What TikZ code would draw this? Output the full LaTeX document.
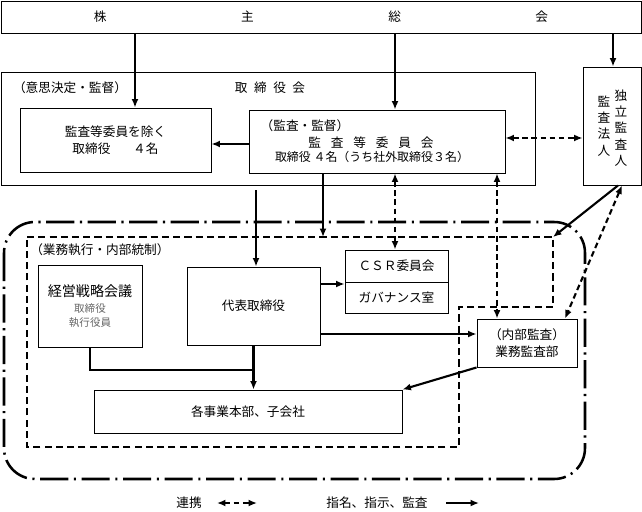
\documentclass[tikz,border=0pt]{standalone}
\usepackage{fontspec}
\setmainfont{Noto Sans CJK JP}
\usepackage{tikz}
\usetikzlibrary{arrows.meta, positioning}
\newlength\pxl
\setlength\pxl{0.025cm}

\begin{document}
\begin{tikzpicture}[x=0.025cm, y=-0.025cm,
  box/.style={draw, line width=0.7pt, inner sep=0pt, align=center, font=\fontsize{9}{12}\selectfont},
  lbl/.style={inner sep=0pt, font=\fontsize{9}{12}\selectfont},
  arr/.style={line width=1.5pt, -{Latex[length=6pt,width=5pt]}},
  link/.style={line width=1.5pt, dash pattern=on 4pt off 2.5pt, {Latex[length=6pt,width=5pt]}-{Latex[length=6pt,width=5pt]}},
  ddot/.style={line width=1.8pt, dash pattern=on 20pt off 4pt on 1.5pt off 4pt},
  dline/.style={line width=1.1pt, dash pattern=on 5pt off 3pt}]
\useasboundingbox (0,0) rectangle (642,511);

% shareholders, board
\node[box, minimum width=640\pxl, minimum height=32\pxl] (gm) at (321,17) {\makebox[323pt][s]{株\hfill 主\hfill 総\hfill 会}};
\node[box, minimum width=534\pxl, minimum height=113\pxl] (board) at (268,128.5) {};
\node[lbl] (boardtag) at (70,88) {（意思決定・監督）};
\node[lbl] (boardname) at (270,88) {\makebox[50pt][s]{取\hfill 締\hfill 役\hfill 会}};
\node[box, minimum width=191\pxl, minimum height=64\pxl] (dirs) at (115.5,140) {監査等委員を除く\\取締役\hspace{1.8em}４名};
\node[box, minimum width=256\pxl, minimum height=63\pxl] (acm) at (377,141.5) {};
\node[lbl] (acmtag) at (305,126) {（監査・監督）};
\node[lbl] (acmname) at (371,143) {\makebox[89pt][s]{監\hfill 査\hfill 等\hfill 委\hfill 員\hfill 会}};
\node[lbl, font=\fontsize{8.5}{11}\selectfont] (acmcount) at (372,157) {取締役\ ４名（うち社外取締役３名）};
\node[box, minimum width=58\pxl, minimum height=118\pxl] (auditor) at (612,126) {};
\node[lbl, align=center, font=\fontsize{9}{11.5}\selectfont] (auditora) at (621,128) {独\\立\\監\\査\\人};
\node[lbl, align=center, font=\fontsize{9}{11.5}\selectfont] (auditorb) at (604,126) {監\\査\\法\\人};

% execution and internal control
\draw[ddot, rounded corners=22pt] (4,222) rectangle (585,479);
\coordinate (icne) at (553,237);
\draw[dline] (27,237) -- (icne) -- (553,307) -- (459,307) -- (459,447) -- (27,447) -- cycle;
\node[lbl, anchor=west] (ictag) at (30,250) {（業務執行・内部統制）};
\node[box, minimum width=104\pxl, minimum height=82\pxl] (mgmt) at (90,306) {{\fontsize{10}{12}\selectfont 経営戦略会議}\\[-1pt]{\fontsize{7.5}{9}\selectfont\color{black!60}取締役}\\[-2pt]{\fontsize{7.5}{9}\selectfont\color{black!60}執行役員}};
\node[box, minimum width=133\pxl, minimum height=78\pxl] (ceo) at (253.5,306) {代表取締役};
\node[box, minimum width=103\pxl, minimum height=32\pxl] (csr) at (396.5,266) {ＣＳＲ委員会};
\node[box, minimum width=103\pxl, minimum height=31\pxl] (gov) at (396.5,297.5) {ガバナンス室};
\node[box, minimum width=100\pxl, minimum height=48\pxl] (iad) at (527,343) {（内部監査）\\業務監査部};
\node[box, minimum width=308\pxl, minimum height=43\pxl] (bu) at (248,411.5) {各事業本部、子会社};

% connectors
\draw[arr] (135,0 |- gm.south) -- (135,0 |- dirs.north);
\draw[arr] (395,0 |- gm.south) -- (395,0 |- acm.north);
\draw[arr] (613,0 |- gm.south) -- (613,0 |- auditor.north);
\draw[arr] (acm.west |- 0,144) -- (dirs.east |- 0,144);
\draw[link] (acm.east |- 0,138) -- (auditor.west |- 0,138);
\draw[arr, shorten <=3.5pt] (256,0 |- board.south) -- (256,0 |- ceo.north);
\draw[arr] (323,0 |- acm.south) -- (323,0 |- icne);
\draw[link] (395,0 |- acm.south) -- (395,0 |- csr.north);
\draw[link] (497,0 |- acm.south) -- (497,0 |- iad.north);
\draw[arr] (618,0 |- auditor.south) -- (icne);
\draw[link] (622,0 |- auditor.south) -- (565,0 |- iad.north);
\draw[arr] (ceo.east |- 0,284) -- (gov.north west |- 0,284);
\draw[arr] (ceo.east |- 0,334) -- (iad.west |- 0,334);
\draw[line width=1.5pt] (mgmt.south) |- (ceo.south |- 0,370);
\draw[arr] (ceo.south) -- (ceo.south |- bu.north);
\draw[arr] (iad.south west) -- (bu.north east);

% legend
\node[lbl] (keylink) at (189,503) {連携};
\coordinate (kla) at (217,503);
\coordinate (klb) at (257,503);
\draw[link, line width=1.2pt] (kla) -- (klb);
\node[lbl] (keyarr) at (377,503) {指名、指示、監査};
\coordinate (kaa) at (446,503);
\coordinate (kab) at (479,503);
\draw[arr] (kaa) -- (kab);
\end{tikzpicture}
\end{document}
